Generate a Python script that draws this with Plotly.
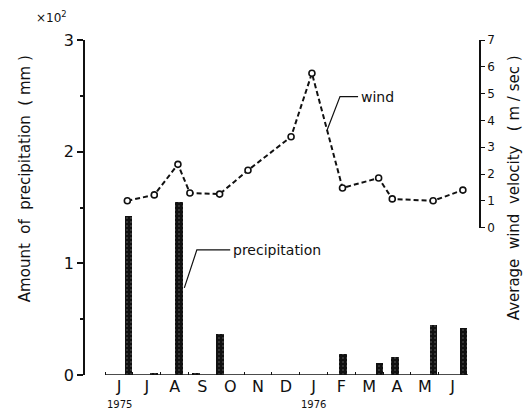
import plotly.graph_objects as go

# Month axis (June 1975 .. June 1976), positions are month indices
months = ["J", "J", "A", "S", "O", "N", "D", "J", "F", "M", "A", "M", "J"]
year_labels = ["1975", "1976"]
year_pos = [0, 7]

# Precipitation samples (mm) at their month positions
bar_x = [0.34, 1.26, 2.16, 2.77, 3.63, 8.05, 9.37, 9.93, 11.31, 12.39]
precip = [142, 2, 155, 2, 37, 19, 11, 16, 45, 42]

# Average wind velocity (m/sec) at observation positions
wind_x = [0.3, 1.27, 2.12, 2.55, 3.62, 4.64, 6.19, 6.94, 8.04, 9.34, 9.83, 11.3, 12.37]
wind = [1.0, 1.22, 2.36, 1.29, 1.25, 2.14, 3.39, 5.76, 1.48, 1.85, 1.07, 1.0, 1.4]

precip_ticks = [0, 100, 200, 300]
precip_ticktext = ["0", "1", "2", "3"]
wind_ticks = [0, 1, 2, 3, 4, 5, 6, 7]

FONT = "DejaVu Sans"
INK = "#111111"
CLEAR = "rgba(0,0,0,0)"

fig = go.Figure()

fig.add_trace(go.Bar(
    x=bar_x, y=precip, width=0.28,
    marker=dict(color=INK, line=dict(width=0),
                pattern=dict(shape=".", fgcolor="#bbbbbb", bgcolor=INK,
                             size=4, solidity=0.12)),
    xaxis="x", yaxis="y", showlegend=False,
))

fig.add_trace(go.Scatter(
    x=wind_x, y=wind, mode="lines+markers",
    line=dict(color=INK, width=2, dash="5px,3px"),
    marker=dict(symbol="circle", size=6, color="white",
                line=dict(color=INK, width=1.6)),
    xaxis="x", yaxis="y2", showlegend=False,
))

# baseline of the time axis
fig.add_shape(type="line", xref="x", yref="y", x0=-0.5, x1=12.55, y0=0, y1=0,
              line=dict(color=INK, width=1.5))

# leader line for "wind"
fig.add_shape(type="path", xref="x", yref="y2",
              path="M 7.48,3.62 L 7.95,4.89 L 8.6,4.89",
              line=dict(color=INK, width=1.2))
# leader line for "precipitation"
fig.add_shape(type="path", xref="x", yref="y",
              path="M 2.35,78 L 2.8,112 L 4.0,112",
              line=dict(color=INK, width=1.2))

annotations = [
    dict(text="wind", x=8.62, y=4.89, xref="x", yref="y2", xanchor="left",
         showarrow=False, font=dict(size=14)),
    dict(text="precipitation", x=4.03, y=112, xref="x", yref="y", xanchor="left",
         showarrow=False, font=dict(size=14)),
    dict(text="×10<sup>2</sup>", x=-0.084, y=1.068, xref="paper", yref="paper",
         xanchor="center", yanchor="middle",
         showarrow=False, font=dict(size=12)),
    dict(text="Amount  of  precipitation  ( mm )", x=-0.152, y=0.585,
         xref="paper", yref="paper", xanchor="center", yanchor="middle",
         textangle=-90, showarrow=False, font=dict(size=15)),
    dict(text="Average  wind  velocity   ( m / sec )", x=1.091, y=0.56,
         xref="paper", yref="paper", xanchor="center", yanchor="middle",
         textangle=-90, showarrow=False, font=dict(size=15)),
]
for lbl, pos in zip(year_labels, year_pos):
    annotations.append(dict(text=lbl, x=pos, y=-0.066, xref="x", yref="paper",
                            xanchor="center", yanchor="top",
                            showarrow=False, font=dict(size=10)))

fig.update_layout(
    width=528, height=411, autosize=False,
    margin=dict(l=85, r=49, t=40, b=36),
    paper_bgcolor="white", plot_bgcolor=CLEAR,
    font=dict(family=FONT, color=INK),
    bargap=0,
    xaxis=dict(range=[-1.223, 12.95], tickmode="array",
               tickvals=list(range(len(months))), ticktext=months,
               ticks="", showline=False, zeroline=False, showgrid=False,
               tickfont=dict(size=16),
               minor=dict(tickmode="linear", tick0=-0.5, dtick=1,
                          ticks="inside", ticklen=3, tickcolor=INK)),
    yaxis=dict(range=[0, 300], domain=[0, 1], tickmode="array",
               tickvals=precip_ticks, ticktext=precip_ticktext,
               showline=True, linecolor=INK, linewidth=1.5,
               ticks="outside", ticklen=6, tickcolor=INK, tickwidth=1.5,
               showgrid=False, zeroline=False, tickfont=dict(size=16),
               minor=dict(tickmode="linear", tick0=0, dtick=50,
                          ticks="outside", ticklen=3, tickcolor=INK)),
    yaxis2=dict(range=[0, 7], domain=[0.44, 1.0], anchor="x", side="right",
                tickmode="array", tickvals=wind_ticks,
                showline=True, linecolor=INK, linewidth=1.5,
                ticks="outside", ticklen=4, tickcolor=INK,
                showgrid=False, zeroline=False, tickfont=dict(size=12)),
    annotations=annotations,
)

fig.write_html("out.html")
